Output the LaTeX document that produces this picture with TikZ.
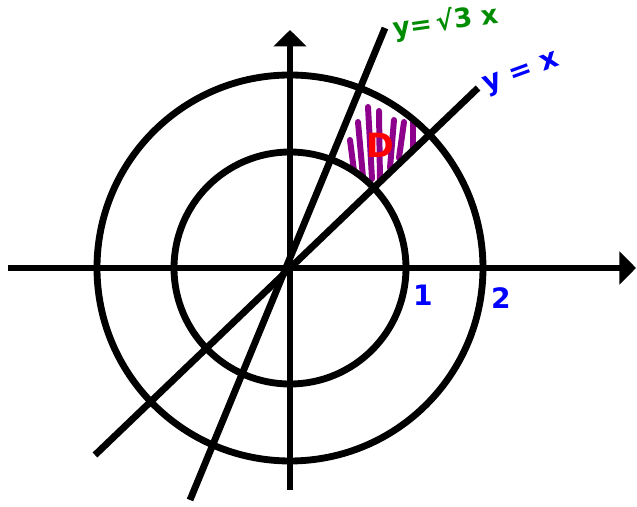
\documentclass[tikz,border=0pt]{standalone}
\usepackage{fontspec}
\newfontfamily\handfont{DejaVu Sans}
\usetikzlibrary{arrows.meta}
\definecolor{rootgreen}{RGB}{0,140,0}
\definecolor{diagblue}{RGB}{0,0,255}
\definecolor{regionred}{RGB}{255,0,0}
\definecolor{hatchpurple}{RGB}{140,0,140}

\begin{document}
\begin{tikzpicture}[
    x=0.02cm, y=0.02cm,
    curve/.style={line width=3.9pt},
    axis/.style={curve, -{Triangle[length=0.33cm, width=0.65cm]}},
    hatch/.style={draw=hatchpurple, line width=3.4pt, line cap=round},
    tag/.style={font=\handfont\bfseries\fontsize{16}{20}\selectfont, inner sep=0pt}
]
\useasboundingbox (-290,-239) rectangle (347,268);

% region D
\foreach \xa/\ya/\xb/\yb in {60/128/64/97, 68/146/73/91, 78/161/82/89, 89/157/90/87,
    104/148/100/100, 114/146/109/110, 123/146/123/120}
    \draw[hatch] (\xa,\ya) -- (\xb,\yb);

\coordinate (O) at (0,0);
\coordinate (xl) at (-282,0);
\coordinate (xr) at (346,0);
\coordinate (yb) at (0,-222);
\coordinate (yt) at (0,238);
\coordinate (d1) at (-195,-187);
\coordinate (d2) at (188,180);
\coordinate (r1) at (-100,-232);
\coordinate (r2) at (95,240);

\draw[curve] (O) circle[radius=116];
\draw[curve] (O) circle[radius=193];
\draw[axis] (xl) -- (xr);
\draw[axis] (yb) -- (yt);
\draw[curve] (d1) -- (d2);
\draw[curve] (r1) -- (r2);

\node[tag, text=rootgreen, rotate=8, font=\handfont\bfseries\fontsize{15}{18}\selectfont] (rootlbl) at (156,246) {y=\,√3 x};
\node[tag, text=diagblue, rotate=20] (difflbl) at (232,193) {y = x};
\node[tag, text=diagblue] (one) at (133,-27) {1};
\node[tag, text=diagblue] (two) at (211,-30) {2};
\node[tag, text=regionred, font=\handfont\bfseries\fontsize{19}{22}\selectfont] (regD) at (90,123) {D};
\end{tikzpicture}
\end{document}
